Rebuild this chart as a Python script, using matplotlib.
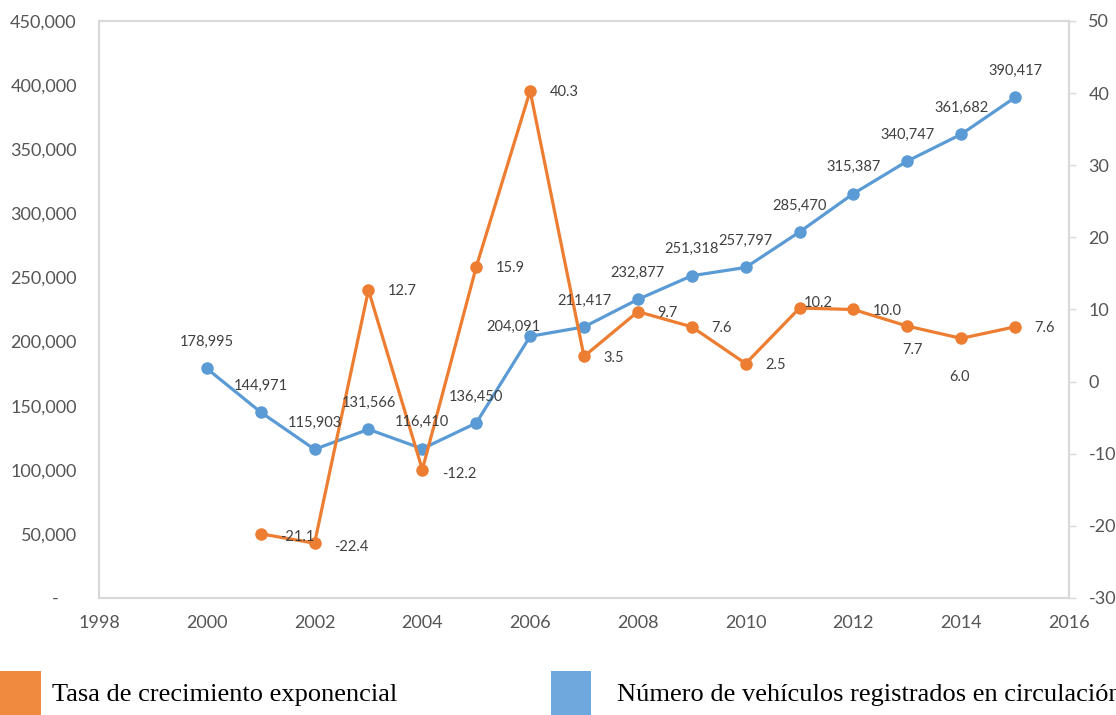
import matplotlib
matplotlib.use("Agg")
import matplotlib.pyplot as plt
from matplotlib.patches import Rectangle
from matplotlib.ticker import FuncFormatter

# Registered vehicles in circulation and exponential growth rate (%)
years = [2000, 2001, 2002, 2003, 2004, 2005, 2006, 2007, 2008,
         2009, 2010, 2011, 2012, 2013, 2014, 2015]
vehiculos = [178995, 144971, 115903, 131566, 116410, 136450, 204091, 211417,
             232877, 251318, 257797, 285470, 315387, 340747, 361682, 390417]

tasa_years = [2001, 2002, 2003, 2004, 2005, 2006, 2007, 2008,
              2009, 2010, 2011, 2012, 2013, 2014, 2015]
tasa = [-21.1, -22.4, 12.7, -12.2, 15.9, 40.3, 3.5, 9.7,
        7.6, 2.5, 10.2, 10.0, 7.7, 6.0, 7.6]

x_ticks = [1998, 2000, 2002, 2004, 2006, 2008, 2010, 2012, 2014, 2016]
left_ticks = [0, 50000, 100000, 150000, 200000, 250000, 300000, 350000, 400000, 450000]
right_ticks = [-30, -20, -10, 0, 10, 20, 30, 40, 50]

legend_labels = ["Tasa de crecimiento exponencial",
                 "Número de vehículos registrados en circulación"]

BLUE = "#5B9BD5"
ORANGE = "#ED7D31"
TICK_C = "#555555"
LABEL_C = "#404040"
SPINE_C = "#D9D9D9"
SANS = ["Lato", "DejaVu Sans"]

W, H = 1116, 715
fig = plt.figure(figsize=(W / 100, H / 100), dpi=100)
ax1 = fig.add_axes([99 / W, 1 - 598 / H, (1069 - 99) / W, (598 - 21) / H])
ax2 = ax1.twinx()

ax1.plot(years, vehiculos, color=BLUE, lw=2.3, marker="o", ms=9,
         markeredgewidth=0, solid_capstyle="round")
ax2.plot(tasa_years, tasa, color=ORANGE, lw=2.3, marker="o", ms=9,
         markeredgewidth=0, solid_capstyle="round")

ax1.set_xlim(1998, 2016)
ax1.set_ylim(0, 450000)
ax2.set_ylim(-30, 50)

ax1.set_xticks(x_ticks)
ax1.set_yticks(left_ticks)
ax2.set_yticks(right_ticks)
ax1.yaxis.set_major_formatter(FuncFormatter(
    lambda v, p: "-    " if v == 0 else f"{int(v):,}"))
ax2.yaxis.set_major_formatter(FuncFormatter(lambda v, p: f"{int(v)}"))

for lab in ax1.get_xticklabels() + ax1.get_yticklabels() + ax2.get_yticklabels():
    lab.set_fontfamily(SANS)
ax1.tick_params(axis="x", length=0, pad=12, labelsize=13, labelcolor=TICK_C)
ax1.tick_params(axis="y", length=0, pad=16, labelsize=13, labelcolor=TICK_C)
ax2.tick_params(axis="y", length=5, width=1, color=SPINE_C, pad=9,
                labelsize=13, labelcolor=TICK_C)

for ax in (ax1, ax2):
    for s in ax.spines.values():
        s.set_color(SPINE_C)
        s.set_linewidth(1.5)

# Value labels for the vehicle series (offsets in points)
blue_offsets = {2006: (-12, 7)}
for x, v in zip(years, vehiculos):
    dx, dy = blue_offsets.get(x, (0, 19))
    ax2.annotate(f"{v:,}", xy=(x, v), xycoords=ax1.transData,
                 xytext=(dx, dy), textcoords="offset points",
                 ha="center", va="center", fontsize=10.5, color=LABEL_C,
                 family=SANS, zorder=5)

# Value labels for the growth-rate series
orange_offsets = {2001: (14, -2), 2002: (14, -3), 2004: (14, -3),
                  2011: (3, 4), 2013: (4, -17), 2014: (-1, -28)}
for x, v in zip(tasa_years, tasa):
    dx, dy = orange_offsets.get(x, (14, -1))
    ha = "center" if x in (2013, 2014) else "left"
    ax2.annotate(f"{v:.1f}", xy=(x, v), xytext=(dx, dy),
                 textcoords="offset points", ha=ha, va="center",
                 fontsize=10.5, color=LABEL_C, family=SANS, zorder=5)

# Legend drawn along the bottom edge of the figure
fig.patches.append(Rectangle((0, 0), 41 / W, 44 / H, transform=fig.transFigure,
                             facecolor="#F08A3E", edgecolor="none"))
fig.patches.append(Rectangle((551 / W, 0), 40 / W, 44 / H, transform=fig.transFigure,
                             facecolor="#6EA8DC", edgecolor="none"))
fig.text(52 / W, 1 - 695 / H, legend_labels[0], family="Liberation Serif",
         fontsize=19, color="black", va="center", ha="left")
fig.text(617 / W, 1 - 695 / H, legend_labels[1], family="Liberation Serif",
         fontsize=19, color="black", va="center", ha="left")

fig.savefig("out.png", dpi=100)
